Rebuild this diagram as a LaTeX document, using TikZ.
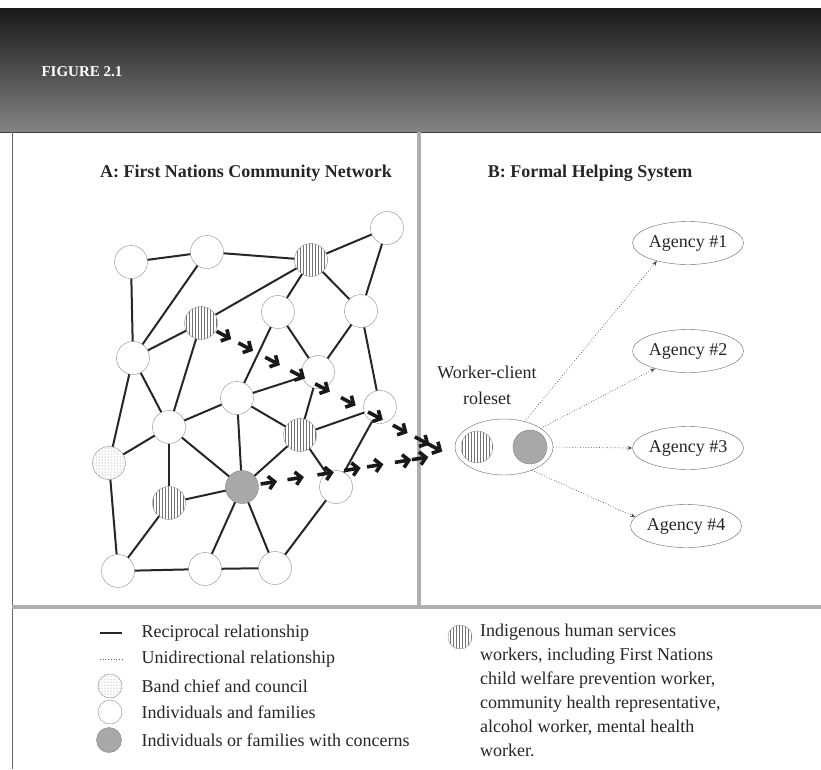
\documentclass[tikz,border=0pt]{standalone}
\usepackage{fontspec}
\setmainfont{Liberation Serif}
\usepackage{tikz}
\usetikzlibrary{arrows.meta,shapes,positioning,patterns,calc}
\usepackage{xcolor}
\definecolor{bandtop}{RGB}{24,24,24}
\definecolor{bandbot}{RGB}{132,132,132}
\definecolor{rulegray}{RGB}{175,175,175}
\definecolor{concern}{RGB}{168,168,168}
\tikzstyle{person} = [circle, draw=black!45, thin, fill=white, minimum size=33pt, inner sep=0pt]
\tikzstyle{worker} = [person, pattern=vertical lines, pattern color=black!55]
\tikzstyle{chief} = [person, pattern=dots, pattern color=black!50]
\tikzstyle{concerned} = [person, fill=concern, draw=black!50]
\tikzstyle{tie} = [line width=2pt, black!85]
\tikzstyle{referral} = [dotted, line width=0.7pt, black!70, -{Stealth[length=5pt,width=4pt]}]
\tikzstyle{push} = [line width=3.6pt, black!90, -{Straight Barb[length=6pt,width=13pt]}]
\tikzstyle{agency} = [ellipse, draw=black!60, thin, minimum width=110pt, minimum height=43pt, inner sep=0pt]
\tikzstyle{txt} = [font=\fontsize{18}{26}\selectfont, text=black!85]

\begin{document}
\begin{tikzpicture}[x=1pt, y=-1pt]
    \useasboundingbox (0,0) rectangle (821,769);

    % Header band
    \shade[top color=bandtop, bottom color=bandbot] (0,8) rectangle (821,132);
    \draw[black!75, thin] (0,132) -- (821,132);
    \node[anchor=west, text=white, font=\fontsize{15}{18}\selectfont\bfseries] (fig) at (38,72) {FIGURE 2.1};

    % Frame
    \draw[black!60, line width=1pt] (12,132) -- (12,769);
    \draw[rulegray, line width=3.5pt] (419,132) -- (419,607);
    \draw[rulegray, line width=4.5pt] (12,607) -- (821,607);

    % Panel titles
    \node[txt, font=\fontsize{18}{26}\selectfont\bfseries] (titleA) at (246,173) {A: First Nations Community Network};
    \node[txt, font=\fontsize{18}{26}\selectfont\bfseries] (titleB) at (590,173) {B: Formal Helping System};

    % Community network
    \node[person] (n1) at (131,262) {};
    \node[person] (n2) at (207,252) {};
    \node[worker] (n3) at (311,260) {};
    \node[person] (n4) at (387,228) {};
    \node[worker] (n5) at (201,323) {};
    \node[person] (n6) at (278,312) {};
    \node[person] (n7) at (361,311) {};
    \node[person] (n8) at (133,358) {};
    \node[person] (n9) at (318,372) {};
    \node[person] (n10) at (237,398) {};
    \node[person] (n11) at (169,427) {};
    \node[person] (n12) at (380,407) {};
    \node[worker] (n13) at (300,435) {};
    \node[chief] (n14) at (109,463) {};
    \node[worker] (n15) at (169,503) {};
    \node[concerned] (n16) at (242,487) {};
    \node[person] (n17) at (336,487) {};
    \node[person] (n18) at (118,571) {};
    \node[person] (n19) at (205,569) {};
    \node[person] (n20) at (275,568) {};

    % Reciprocal ties
    \foreach \a/\b in {1/2, 2/3, 3/4, 1/8, 2/8, 3/5, 5/8, 3/6, 3/7, 4/7, 5/11, 8/14, 8/11,
                       6/10, 6/9, 7/9, 7/12, 10/9, 9/13, 13/12, 12/17, 13/17, 10/11, 10/13,
                       10/16, 11/14, 11/15, 11/16, 13/16, 15/16, 14/18, 15/18, 18/19, 19/20,
                       16/19, 16/20, 20/17}
        \draw[tie] (n\a) -- (n\b);

    % Worker-client roleset
    \node[txt, align=center] (rslabel) at (487,385) {Worker-client\\roleset};
    \node[ellipse, draw=black!60, thin, minimum width=98pt, minimum height=56pt] (rs) at (504,447) {};
    \node[worker, minimum size=32pt] (rsw) at (477,447) {};
    \node[concerned, minimum size=34pt] (rsc) at (530,447) {};

    % Bold arrows into the roleset
    \coordinate (merge) at (447,454);
    \foreach \t in {0.093,0.182,0.291,0.393,0.494,0.599,0.709,0.810,0.899,0.951}
        \draw[push] ($(n5)!\t-0.03!(merge)$) -- ($(n5)!\t+0.03!(merge)$);
    \foreach \t in {0.131,0.262,0.408,0.539,0.650,0.786,0.869}
        \draw[push] ($(n16)!\t-0.04!(merge)$) -- ($(n16)!\t+0.04!(merge)$);

    % Formal helping system
    \node[agency, txt] (a1) at (688,243) {Agency \#1};
    \node[agency, txt] (a2) at (688,351) {Agency \#2};
    \node[agency, txt] (a3) at (688,448) {Agency \#3};
    \node[agency, txt] (a4) at (686,526) {Agency \#4};

    \draw[referral] (rs.51) -- (a1.210);
    \draw[referral] (rs.27) -- (a2.208);
    \draw[referral] (rs.east) -- (a3.west);
    \draw[referral] (rs.-40) -- (a4.170);

    % Legend
    \draw[tie] (100,633) -- (122,633);
    \draw[dotted, line width=0.7pt, black!60] (100,659) -- (122,659);
    \node[chief, minimum size=24pt] (lchief) at (110,686) {};
    \node[person, minimum size=24pt] (lperson) at (110,712) {};
    \node[concerned, minimum size=25pt] (lconcern) at (109,740) {};
    \node[txt, anchor=west] (l1) at (138,633) {Reciprocal relationship};
    \node[txt, anchor=west] (l2) at (138,659) {Unidirectional relationship};
    \node[txt, anchor=west] (l3) at (138,686) {Band chief and council};
    \node[txt, anchor=west] (l4) at (138,712) {Individuals and families};
    \node[txt, anchor=west] (l5) at (138,740) {Individuals or families with concerns};

    \node[worker, minimum size=24pt] (lworker) at (460,637) {};
    \node[txt, font=\fontsize{18}{24}\selectfont, anchor=north west, align=left, inner sep=0pt] (l6) at (480,624)
        {Indigenous human services\\workers, including First Nations\\child welfare prevention worker,\\community health representative,\\alcohol worker, mental health\\worker.};
\end{tikzpicture}
\end{document}
